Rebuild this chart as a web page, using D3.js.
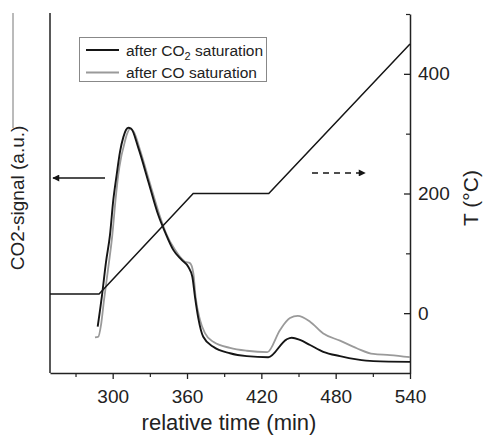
<!DOCTYPE html>
<html>
<head>
<meta charset="utf-8">
<script src="https://cdn.jsdelivr.net/npm/d3@7"></script>
<style>
    body { margin: 0; background: #fff; }
    svg { display: block; font-family: 'Liberation Sans', Arial, sans-serif; }
</style>
</head>
<body>
<div id="chart"></div>
<script>
// CO2 signal after CO2 saturation (time in min, signal in a.u.)
const co2Time = [287.9, 291.4, 294.6, 297.8, 300.5, 303.2, 305.9, 308.6, 310.7, 312.6, 314.8, 320.7,
    328.8, 336.8, 342.2, 348.9, 355.7, 361.0, 364.3, 366.4, 369.1, 373.1, 381.2, 394.7, 408.2,
    425.6, 440.5, 444.5, 451.2, 459.3, 470.0, 483.5, 497.0, 510.4, 540];
const co2Signal = [12.9, 21.7, 30.9, 38.4, 48.2, 55.2, 61.6, 65.7, 67.7, 68.3, 68.1, 62.7,
    53.3, 44.0, 39.3, 34.3, 31.5, 29.6, 26.8, 21.3, 15.3, 10.1, 7.3, 5.5, 4.7,
    4.4, 9.4, 9.8, 9.2, 7.8, 5.9, 4.7, 3.8, 3.3, 3.1];

// CO2 signal after CO saturation
const coTime = [285.7, 288.4, 290.6, 293.0, 296.2, 299.7, 302.3, 304.5, 306.7, 308.6, 311.6, 314.0,
    317.2, 322.1, 329.7, 337.8, 343.0, 350.3, 358.4, 362.4, 365.1, 366.9, 370.5, 374.5, 381.2,
    394.7, 408.2, 424.8, 435.1, 443.1, 449.4, 459.3, 470.0, 483.5, 497.0, 510.4, 523.9, 540];
const coSignal = [9.9, 10.1, 13.4, 20.3, 28.7, 38.4, 48.2, 55.2, 59.9, 62.7, 66.6, 68.0,
    67.1, 62.1, 53.3, 44.0, 39.0, 34.3, 31.0, 30.6, 27.8, 21.3, 14.8, 11.1, 8.7,
    7.0, 6.2, 5.8, 12.0, 15.3, 15.9, 14.3, 11.0, 9.0, 6.9, 5.3, 5.0, 4.4];

// temperature programme
const tempTime = [249.4, 289, 365, 426, 540];
const tempValue = [32, 32, 200, 200, 450];

const xTicks = [300, 360, 420, 480, 540];
const xMinorTicks = [270, 330, 390, 450, 510];
const tTicks = [0, 200, 400];
const tMinorTicks = [100, 300, 500];

const seriesNames = ['after CO', ' saturation'];

const width = 484;
const height = 436;
const plotLeft = 50, plotRight = 410, plotTop = 13, plotBottom = 373;

const svg = d3.select('#chart').append('svg')
    .attr('width', width)
    .attr('height', height);

const x = d3.scaleLinear().domain([249.4, 540]).range([plotLeft, plotRight]);
const ySig = d3.scaleLinear().domain([0, 100]).range([plotBottom, 14]);
const yT = d3.scaleLinear().domain([-100, 500]).range([plotBottom, 14]);

// stray line at the far left of the scan
svg.append('line')
    .attr('x1', 13).attr('x2', 13)
    .attr('y1', plotTop).attr('y2', 128)
    .attr('stroke', '#777').attr('stroke-width', 1);

// frame: left line
svg.append('line')
    .attr('x1', plotLeft).attr('x2', plotLeft)
    .attr('y1', plotTop).attr('y2', plotBottom)
    .attr('stroke', '#222').attr('stroke-width', 1.5);

// bottom axis
const xAxis = svg.append('g')
    .attr('transform', `translate(0, ${plotBottom})`)
    .call(d3.axisBottom(x).tickValues(xTicks).tickSize(6).tickSizeOuter(0).tickPadding(11));
xAxis.select('.domain').attr('stroke', '#222').attr('stroke-width', 1.5);
xAxis.selectAll('.tick line').attr('stroke', '#222').attr('stroke-width', 1.3);
xAxis.selectAll('text').style('font-size', '19px').attr('fill', '#222')
    .style('font-family', "'Liberation Sans', Arial, sans-serif");

svg.append('g')
    .attr('transform', `translate(0, ${plotBottom})`)
    .call(d3.axisBottom(x).tickValues(xMinorTicks).tickSize(4).tickFormat(''))
    .call((g) => g.select('.domain').remove())
    .selectAll('.tick line').attr('stroke', '#222').attr('stroke-width', 1.2);

// right axis (temperature), ticks inward
const tAxis = svg.append('g')
    .attr('transform', `translate(${plotRight}, 0)`)
    .call(d3.axisRight(yT).tickValues(tTicks).tickSize(-6).tickSizeOuter(0).tickPadding(8));
tAxis.select('.domain').attr('stroke', '#222').attr('stroke-width', 1.5);
tAxis.selectAll('.tick line').attr('stroke', '#222').attr('stroke-width', 1.3);
tAxis.selectAll('text').style('font-size', '19px').attr('fill', '#222')
    .style('font-family', "'Liberation Sans', Arial, sans-serif");

svg.append('g')
    .attr('transform', `translate(${plotRight}, 0)`)
    .call(d3.axisRight(yT).tickValues(tMinorTicks).tickSize(-4).tickFormat(''))
    .call((g) => g.select('.domain').remove())
    .selectAll('.tick line').attr('stroke', '#222').attr('stroke-width', 1.2);

// axis titles
svg.append('text')
    .attr('x', (plotLeft + plotRight) / 2 - 1)
    .attr('y', 430)
    .attr('text-anchor', 'middle')
    .style('font-size', '22px')
    .attr('fill', '#222')
    .text('relative time (min)');

svg.append('text')
    .attr('transform', 'translate(24, 198) rotate(-90)')
    .attr('text-anchor', 'middle')
    .style('font-size', '19px')
    .attr('fill', '#222')
    .text('CO2-signal (a.u.)');

svg.append('text')
    .attr('transform', 'translate(478, 198) rotate(-90)')
    .attr('text-anchor', 'middle')
    .style('font-size', '21px')
    .attr('fill', '#222')
    .text('T (°C)');

// curves
const sigLine = d3.line()
    .x((d) => x(d[0]))
    .y((d) => ySig(d[1]))
    .curve(d3.curveMonotoneX);

const coData = coTime.map((t, i) => [t, coSignal[i]]);
const co2Data = co2Time.map((t, i) => [t, co2Signal[i]]);

svg.append('path')
    .datum(coData)
    .attr('fill', 'none')
    .attr('stroke', '#9a9a9a')
    .attr('stroke-width', 1.8)
    .attr('d', sigLine);

svg.append('path')
    .datum(co2Data)
    .attr('fill', 'none')
    .attr('stroke', '#151515')
    .attr('stroke-width', 1.9)
    .attr('d', sigLine);

// temperature
const tempLine = d3.line()
    .x((d) => x(d[0]))
    .y((d) => yT(d[1]));

svg.append('path')
    .datum(tempTime.map((t, i) => [t, tempValue[i]]))
    .attr('fill', 'none')
    .attr('stroke', '#151515')
    .attr('stroke-width', 1.5)
    .attr('d', tempLine);

// arrows
const defs = svg.append('defs');
defs.append('marker')
    .attr('id', 'head')
    .attr('viewBox', '0 0 10 10')
    .attr('refX', 9)
    .attr('refY', 5)
    .attr('markerWidth', 9)
    .attr('markerHeight', 7)
    .attr('markerUnits', 'userSpaceOnUse')
    .attr('orient', 'auto')
    .append('path')
    .attr('d', 'M0,0 L10,5 L0,10 Z')
    .attr('fill', '#151515');

svg.append('line')
    .attr('x1', x(293.8)).attr('x2', x(251.8))
    .attr('y1', ySig(54.3)).attr('y2', ySig(54.3))
    .attr('stroke', '#151515').attr('stroke-width', 1.5)
    .attr('marker-end', 'url(#head)');

svg.append('line')
    .attr('x1', x(460.9)).attr('x2', x(503.7))
    .attr('y1', yT(234.4)).attr('y2', yT(234.4))
    .attr('stroke', '#151515').attr('stroke-width', 1.5)
    .attr('stroke-dasharray', '6,5')
    .attr('marker-end', 'url(#head)');

// legend
const legend = svg.append('g');
legend.append('rect')
    .attr('x', 79.5).attr('y', 37.5)
    .attr('width', 187).attr('height', 44)
    .attr('fill', '#fff')
    .attr('stroke', '#888');

const legendItems = [
    { color: '#151515', sub: '2', y: 50 },
    { color: '#9a9a9a', sub: null, y: 72.5 }
];
legendItems.forEach((d) => {
    legend.append('line')
        .attr('x1', 86).attr('x2', 119)
        .attr('y1', d.y).attr('y2', d.y)
        .attr('stroke', d.color).attr('stroke-width', 1.8);
    const txt = legend.append('text')
        .attr('x', 126).attr('y', d.y + 5.5)
        .style('font-size', '15.5px')
        .attr('fill', '#222');
    txt.append('tspan').text(seriesNames[0]);
    if (d.sub) {
        txt.append('tspan').attr('dy', 4).style('font-size', '11px').text(d.sub);
        txt.append('tspan').attr('dy', -4).text(seriesNames[1]);
    } else {
        txt.append('tspan').text(seriesNames[1]);
    }
});
</script>
</body>
</html>
